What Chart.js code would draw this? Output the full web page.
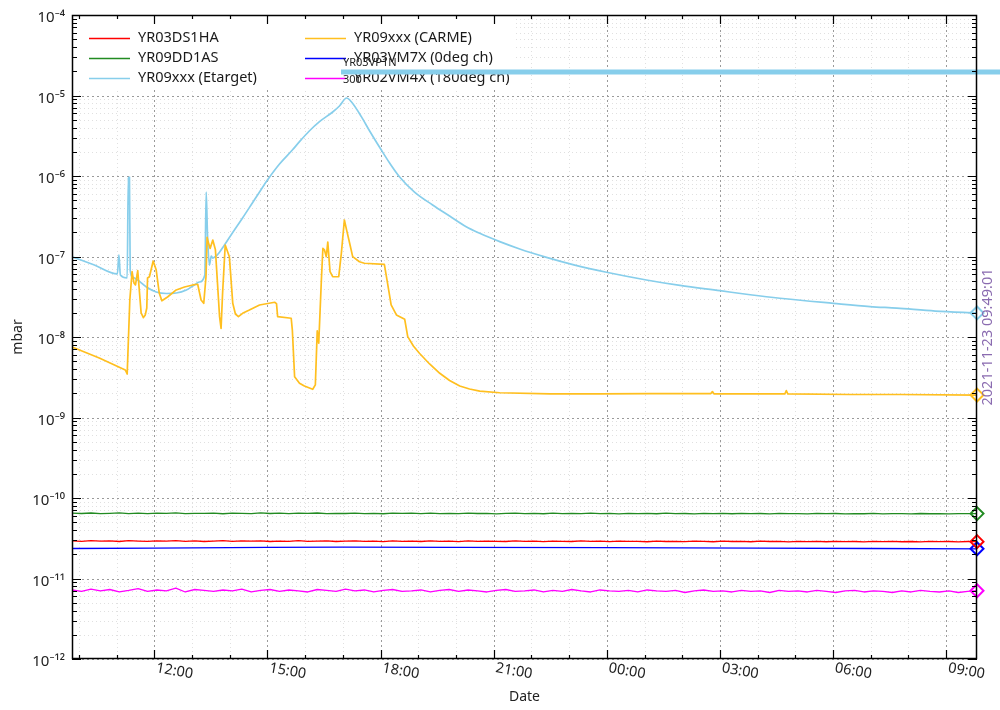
<!DOCTYPE html>
<html><head><meta charset="utf-8">
<script src="https://cdn.jsdelivr.net/npm/chart.js@4.4.1/dist/chart.umd.min.js"></script>
<style>html,body{margin:0;padding:0;background:#fff;}#wrap{width:1000px;height:710px;position:relative;}</style>
</head><body><div id="wrap"><canvas id="c" width="1000" height="710"></canvas></div>
<script>
// ---- data (x = hours since 2021-11-22 00:00, y = mbar) ----
const xTickHours = [12, 15, 18, 21, 24, 27, 30, 33];
const xTickLabels = ['12:00', '15:00', '18:00', '21:00', '00:00', '03:00', '06:00', '09:00'];
const yTickExps = [-4, -5, -6, -7, -8, -9, -10, -11, -12];
const yTickLabels = ['10⁻⁴', '10⁻⁵', '10⁻⁶', '10⁻⁷', '10⁻⁸', '10⁻⁹', '10⁻¹⁰', '10⁻¹¹', '10⁻¹²'];
const seriesNames = ['YR03DS1HA', 'YR09xxx (CARME)', 'YR09DD1AS', 'YR03VM7X (0deg ch)', 'YR09xxx (Etarget)', 'YR02VM4X (180deg ch)'];
const timestampText = '2021-11-23 09:49:01';

const etargetT = [9.82,10.41,11.02,11.06,11.10,11.28,11.31,11.33,11.34,11.36,11.42,11.52,11.79,12.05,12.32,12.58,12.85,13.06,13.19,13.34,13.375,13.41,13.46,13.51,13.55,13.67,13.86,14.07,14.34,14.60,14.79,15.00,15.32,15.66,15.85,16.11,16.38,16.73,16.91,17.10,17.23,17.49,17.71,18.02,18.24,18.50,18.90,19.38,19.83,20.27,20.63,21.16,21.69,22.40,23.15,23.99,25.05,25.94,27.00,27.80,28.59,30.01,30.98,31.69,32.71,33.8167];
const etargetV = [9.9e-8,7.83e-8,6.07e-8,1.045e-7,5.89e-8,5.41e-8,9.7e-7,4.37e-7,9.7e-7,6.79e-8,5.56e-8,5.25e-8,4.18e-8,3.62e-8,3.47e-8,3.52e-8,3.84e-8,4.43e-8,4.82e-8,5.89e-8,6.32e-7,1.85e-7,7.83e-8,1.01e-7,9.57e-8,1.045e-7,1.39e-7,1.96e-7,3.01e-7,4.62e-7,6.32e-7,8.91e-7,1.41e-6,2.10e-6,2.67e-6,3.62e-6,4.73e-6,6.24e-6,7.41e-6,9.31e-6,8.3e-6,5.46e-6,3.62e-6,2.10e-6,1.45e-6,9.8e-7,6.32e-7,4.37e-7,3.18e-7,2.34e-7,1.94e-7,1.53e-7,1.24e-7,9.77e-8,7.83e-8,6.37e-8,5.11e-8,4.37e-8,3.76e-8,3.35e-8,3.03e-8,2.62e-8,2.39e-8,2.28e-8,2.10e-8,1.99e-8];

const carmeT = [9.82,10.54,11.23,11.28,11.35,11.41,11.46,11.50,11.56,11.65,11.71,11.76,11.80,11.82,11.87,11.97,12.05,12.13,12.20,12.35,12.58,12.80,13.02,13.15,13.24,13.31,13.37,13.40,13.43,13.48,13.55,13.62,13.73,13.77,13.81,13.88,13.99,14.08,14.15,14.23,14.34,14.52,14.79,15.19,15.24,15.27,15.63,15.66,15.72,15.85,15.98,16.20,16.27,16.32,16.36,16.43,16.47,16.51,16.56,16.60,16.66,16.73,16.89,16.96,17.04,17.10,17.18,17.26,17.44,17.57,18.10,18.17,18.28,18.42,18.64,18.72,18.87,19.03,19.30,19.57,19.83,20.10,20.36,20.63,21.16,22.49,23.81,25.14,26.76,26.80,26.84,28.72,28.76,28.80,30.45,31.78,33.8167];
const carmeV = [7.52e-9,5.48e-9,3.89e-9,3.47e-9,2.88e-8,6.47e-8,4.69e-8,4.43e-8,6.67e-8,1.99e-8,1.74e-8,1.88e-8,2.29e-8,5.41e-8,5.61e-8,8.79e-8,6.79e-8,3.52e-8,2.82e-8,3.14e-8,3.84e-8,4.18e-8,4.43e-8,4.52e-8,2.88e-8,2.62e-8,5.61e-8,1.73e-7,1.51e-7,1.26e-7,1.60e-7,1.21e-7,1.79e-8,1.28e-8,3.49e-8,1.39e-7,9.95e-8,2.62e-8,1.93e-8,1.79e-8,1.97e-8,2.16e-8,2.50e-8,2.70e-8,2.6e-8,1.79e-8,1.71e-8,1.22e-8,3.21e-9,2.66e-9,2.46e-9,2.24e-9,2.54e-9,1.19e-8,8.36e-9,5.11e-8,1.26e-7,1.21e-7,9.95e-8,1.51e-7,6.47e-8,5.61e-8,5.6e-8,1.10e-7,2.84e-7,2.13e-7,1.46e-7,9.95e-8,8.61e-8,8.24e-8,8.0e-8,5.11e-8,2.50e-8,1.88e-8,1.66e-8,1.01e-8,7.73e-9,6.28e-9,4.62e-9,3.54e-9,2.88e-9,2.46e-9,2.26e-9,2.13e-9,2.03e-9,1.96e-9,1.96e-9,1.98e-9,1.98e-9,2.10e-9,1.97e-9,1.96e-9,2.16e-9,1.96e-9,1.93e-9,1.93e-9,1.90e-9];

const gaugeT = [9.82,10.07,10.32,10.57,10.82,11.07,11.32,11.57,11.82,12.07,12.32,12.57,12.82,13.07,13.32,13.57,13.82,14.07,14.32,14.57,14.82,15.07,15.32,15.57,15.82,16.07,16.32,16.57,16.82,17.07,17.32,17.57,17.82,18.07,18.32,18.57,18.82,19.07,19.32,19.57,19.82,20.07,20.32,20.57,20.82,21.07,21.32,21.57,21.82,22.07,22.32,22.57,22.82,23.07,23.32,23.57,23.82,24.07,24.32,24.57,24.82,25.07,25.32,25.57,25.82,26.07,26.32,26.57,26.82,27.07,27.32,27.57,27.82,28.07,28.32,28.57,28.82,29.07,29.32,29.57,29.82,30.07,30.32,30.57,30.82,31.07,31.32,31.57,31.82,32.07,32.32,32.57,32.82,33.07,33.32,33.57,33.8167];
const ds1haV = [2.94e-11,2.90e-11,2.96e-11,2.91e-11,2.93e-11,2.88e-11,2.95e-11,2.92e-11,2.89e-11,2.94e-11,
  2.91e-11,2.95e-11,2.90e-11,2.93e-11,2.88e-11,2.92e-11,2.95e-11,2.89e-11,2.93e-11,2.91e-11,
  2.94e-11,2.88e-11,2.92e-11,2.90e-11,2.95e-11,2.89e-11,2.92e-11,2.94e-11,2.88e-11,2.91e-11,
  2.93e-11,2.89e-11,2.92e-11,2.87e-11,2.94e-11,2.90e-11,2.92e-11,2.88e-11,2.93e-11,2.90e-11,
  2.91e-11,2.87e-11,2.93e-11,2.89e-11,2.92e-11,2.90e-11,2.88e-11,2.93e-11,2.89e-11,2.91e-11,
  2.87e-11,2.92e-11,2.90e-11,2.88e-11,2.93e-11,2.89e-11,2.91e-11,2.87e-11,2.92e-11,2.89e-11,
  2.90e-11,2.86e-11,2.92e-11,2.88e-11,2.90e-11,2.87e-11,2.91e-11,2.89e-11,2.86e-11,2.91e-11,
  2.88e-11,2.90e-11,2.86e-11,2.91e-11,2.88e-11,2.89e-11,2.85e-11,2.90e-11,2.87e-11,2.89e-11,
  2.86e-11,2.90e-11,2.87e-11,2.88e-11,2.85e-11,2.90e-11,2.87e-11,2.89e-11,2.86e-11,2.88e-11,
  2.85e-11,2.89e-11,2.87e-11,2.88e-11,2.85e-11,2.88e-11,2.87e-11];
const dd1asV = [6.48e-11,6.42e-11,6.51e-11,6.40e-11,6.46e-11,6.53e-11,6.41e-11,6.47e-11,6.38e-11,6.50e-11,
  6.44e-11,6.52e-11,6.39e-11,6.46e-11,6.43e-11,6.50e-11,6.37e-11,6.48e-11,6.45e-11,6.40e-11,
  6.53e-11,6.42e-11,6.47e-11,6.39e-11,6.49e-11,6.44e-11,6.51e-11,6.38e-11,6.45e-11,6.42e-11,
  6.50e-11,6.40e-11,6.46e-11,6.37e-11,6.48e-11,6.43e-11,6.47e-11,6.39e-11,6.50e-11,6.41e-11,
  6.45e-11,6.38e-11,6.48e-11,6.42e-11,6.46e-11,6.36e-11,6.44e-11,6.49e-11,6.40e-11,6.45e-11,
  6.37e-11,6.47e-11,6.41e-11,6.44e-11,6.38e-11,6.48e-11,6.40e-11,6.43e-11,6.36e-11,6.46e-11,
  6.41e-11,6.44e-11,6.37e-11,6.47e-11,6.39e-11,6.42e-11,6.35e-11,6.45e-11,6.40e-11,6.43e-11,
  6.37e-11,6.46e-11,6.39e-11,6.42e-11,6.34e-11,6.44e-11,6.38e-11,6.41e-11,6.36e-11,6.45e-11,
  6.39e-11,6.42e-11,6.35e-11,6.40e-11,6.37e-11,6.44e-11,6.36e-11,6.41e-11,6.38e-11,6.34e-11,
  6.42e-11,6.37e-11,6.40e-11,6.35e-11,6.41e-11,6.38e-11,6.40e-11];
const vm4xV = [7.2e-12,6.9e-12,7.4e-12,7.0e-12,7.3e-12,6.8e-12,7.1e-12,7.5e-12,6.9e-12,7.2e-12,
  7.0e-12,7.6e-12,6.8e-12,7.3e-12,7.1e-12,6.9e-12,7.2e-12,7.0e-12,7.4e-12,6.8e-12,
  7.1e-12,7.3e-12,6.9e-12,7.2e-12,7.0e-12,6.8e-12,7.3e-12,7.1e-12,6.9e-12,7.4e-12,
  7.0e-12,7.2e-12,6.8e-12,7.1e-12,7.3e-12,6.9e-12,7.0e-12,7.2e-12,6.8e-12,7.1e-12,
  7.3e-12,6.9e-12,7.2e-12,7.0e-12,6.8e-12,7.1e-12,7.3e-12,6.9e-12,7.0e-12,7.2e-12,
  6.8e-12,7.1e-12,6.9e-12,7.3e-12,7.0e-12,6.8e-12,7.2e-12,7.0e-12,6.9e-12,7.1e-12,
  6.8e-12,7.2e-12,7.0e-12,6.9e-12,7.1e-12,6.7e-12,7.0e-12,7.2e-12,6.9e-12,7.0e-12,
  6.8e-12,7.1e-12,6.9e-12,7.0e-12,6.7e-12,7.1e-12,6.9e-12,7.0e-12,6.8e-12,7.1e-12,
  6.9e-12,6.7e-12,7.0e-12,7.1e-12,6.8e-12,7.0e-12,6.9e-12,6.7e-12,7.0e-12,6.8e-12,
  7.1e-12,6.9e-12,6.8e-12,7.0e-12,6.7e-12,6.9e-12,7.05e-12];
const vm7xT = [9.82,12,15,17,20,24,28,31,33.8167];
const vm7xV = [2.36e-11,2.39e-11,2.43e-11,2.45e-11,2.44e-11,2.42e-11,2.39e-11,2.36e-11,2.34e-11];

// ---- styling ----
const FONT = '"Noto Sans", "Open Sans", "DejaVu Sans", sans-serif';
const colors = ['#ff0000', '#ffbf1f', '#228b22', '#0000ff', '#87ceeb', '#ff00ff'];
const widths = [1.3, 1.7, 1.3, 1.3, 1.7, 1.3];
const smooth = [false, false, false, false, true, false];

function pts(t, v) { return t.map((h, i) => ({x: h, y: v[i]})); }
const seriesData = [pts(gaugeT, ds1haV), pts(carmeT, carmeV), pts(gaugeT, dd1asV), pts(vm7xT, vm7xV), pts(etargetT, etargetV), pts(gaugeT, vm4xV)];
const drawOrder = [3, 0, 2, 4, 5, 1];

const datasets = seriesNames.map((name, i) => ({
  label: name,
  data: seriesData[i],
  borderColor: colors[i],
  borderWidth: widths[i],
  backgroundColor: 'rgba(0,0,0,0)',
  pointStyle: 'rectRot',
  pointRadius: (c) => c.dataIndex === seriesData[i].length - 1 ? 6.5 : 0,
  pointBorderColor: colors[i],
  pointBackgroundColor: 'rgba(255,255,255,0)',
  pointBorderWidth: 2,
  cubicInterpolationMode: smooth[i] ? 'monotone' : 'default',
  tension: smooth[i] ? 0.4 : 0,
  fill: false,
  clip: 10,
  order: drawOrder[i]
}));

const overlay = {
  id: 'overlay',
  beforeDatasetsDraw(chart) {
    const {ctx, chartArea: a, scales: {x, y}} = chart;
    ctx.save();
    ctx.lineWidth = 1;
    // minor grid
    ctx.setLineDash([1, 3]);
    ctx.strokeStyle = '#e0e0e0';
    ctx.beginPath();
    yTickExps.forEach(e => {
      for (let m = 2; m <= 9; m++) {
        const v = m * Math.pow(10, e);
        if (v > 1e-4) continue;
        const py = Math.round(y.getPixelForValue(v)) + 0.5;
        ctx.moveTo(a.left, py); ctx.lineTo(a.right, py);
      }
    });
    for (let h = Math.ceil(x.min); h <= x.max; h++) {
      if (xTickHours.includes(h)) continue;
      const px = Math.round(x.getPixelForValue(h)) + 0.5;
      ctx.moveTo(px, a.top); ctx.lineTo(px, a.bottom);
    }
    ctx.stroke();
    // major grid
    ctx.setLineDash([2, 3]);
    ctx.strokeStyle = '#9a9a9a';
    ctx.beginPath();
    yTickExps.forEach(e => {
      const py = Math.round(y.getPixelForValue(Math.pow(10, e))) + 0.5;
      ctx.moveTo(a.left, py); ctx.lineTo(a.right, py);
    });
    xTickHours.forEach(h => {
      const px = Math.round(x.getPixelForValue(h)) + 0.5;
      ctx.moveTo(px, a.top); ctx.lineTo(px, a.bottom);
    });
    ctx.stroke();
    ctx.setLineDash([]);
    // legend background
    ctx.fillStyle = '#ffffff';
    ctx.fillRect(a.left + 1, a.top + 1, 443, 73);
    ctx.restore();
  },
  afterDatasetsDraw(chart) {
    const {ctx, chartArea: a, scales: {x, y}} = chart;
    ctx.save();
    // legend
    ctx.font = '14.5px ' + FONT;
    ctx.textBaseline = 'middle';
    ctx.textAlign = 'left';
    const legendPos = [[89, 38], [305, 38], [89, 58], [305, 58], [89, 78], [305, 78]];
    chart.data.datasets.forEach((ds, i) => {
      const [lx, ly] = legendPos[i];
      ctx.strokeStyle = ds.borderColor;
      ctx.lineWidth = 1.5;
      ctx.beginPath(); ctx.moveTo(lx, ly + 0.5); ctx.lineTo(lx + 41, ly + 0.5); ctx.stroke();
      ctx.fillStyle = '#1a1a1a';
      ctx.fillText(ds.label, lx + 49, ly);
    });
    // stray annotation overlay
    ctx.font = '11px ' + FONT;
    ctx.fillStyle = '#222';
    ctx.fillText('YR03VP1N', 343, 63);
    ctx.fillStyle = '#87ceeb';
    ctx.fillRect(341, 69.5, 659, 5);
    ctx.fillStyle = '#222';
    ctx.fillText('300', 343, 80);
    // frame
    ctx.strokeStyle = '#000';
    ctx.lineWidth = 1.5;
    ctx.strokeRect(a.left + 0.5, a.top + 0.5, a.right - a.left - 1, a.bottom - a.top - 1);
    // ticks (inward)
    ctx.lineWidth = 1.2;
    ctx.beginPath();
    yTickExps.forEach(e => {
      for (let m = 1; m <= 9; m++) {
        const v = m * Math.pow(10, e);
        if (v > 1e-4) continue;
        const py = Math.round(y.getPixelForValue(v)) + 0.5;
        const len = m === 1 ? 9 : 5;
        ctx.moveTo(a.left, py); ctx.lineTo(a.left + len, py);
        ctx.moveTo(a.right, py); ctx.lineTo(a.right - len, py);
      }
    });
    for (let h = Math.ceil(x.min); h <= x.max; h++) {
      const px = Math.round(x.getPixelForValue(h)) + 0.5;
      const len = xTickHours.includes(h) ? 9 : 4;
      ctx.moveTo(px, a.bottom); ctx.lineTo(px, a.bottom - len);
      ctx.moveTo(px, a.top); ctx.lineTo(px, a.top + len);
    }
    ctx.stroke();
    // y tick labels
    ctx.fillStyle = '#222';
    ctx.font = '15px ' + FONT;
    ctx.textAlign = 'right';
    ctx.textBaseline = 'middle';
    yTickExps.forEach((e, i) => {
      const py = y.getPixelForValue(Math.pow(10, e));
      ctx.fillText(yTickLabels[i], 65, py + 3);
    });
    // x tick labels (rotated)
    ctx.font = '14.5px ' + FONT;
    ctx.textAlign = 'left';
    ctx.textBaseline = 'middle';
    xTickHours.forEach((h, i) => {
      const px = x.getPixelForValue(h);
      ctx.save();
      ctx.translate(px + 2, 668);
      ctx.rotate(10 * Math.PI / 180);
      ctx.fillText(xTickLabels[i], 0, 0);
      ctx.restore();
    });
    // axis titles
    ctx.font = '14px ' + FONT;
    ctx.textAlign = 'center';
    ctx.fillText('Date', (a.left + a.right) / 2, 697);
    ctx.save();
    ctx.translate(18, (a.top + a.bottom) / 2);
    ctx.rotate(-Math.PI / 2);
    ctx.fillText('mbar', 0, 0);
    ctx.restore();
    // timestamp
    ctx.save();
    ctx.font = '14.5px ' + FONT;
    ctx.fillStyle = '#8a6bb0';
    ctx.translate(988, (a.top + a.bottom) / 2);
    ctx.rotate(-Math.PI / 2);
    ctx.fillText(timestampText, 0, 0);
    ctx.restore();
    ctx.restore();
  }
};

new Chart(document.getElementById('c'), {
  type: 'line',
  data: {datasets},
  options: {
    responsive: false,
    animation: false,
    layout: {padding: {left: 72, right: 23, top: 15, bottom: 51}},
    scales: {
      x: {type: 'linear', min: 9.8167, max: 33.8167, display: false},
      y: {type: 'logarithmic', min: 1e-12, max: 1e-4, display: false}
    },
    plugins: {legend: {display: false}, tooltip: {enabled: false}},
    elements: {line: {borderJoinStyle: 'round'}}
  },
  plugins: [overlay]
});
</script></body></html>
